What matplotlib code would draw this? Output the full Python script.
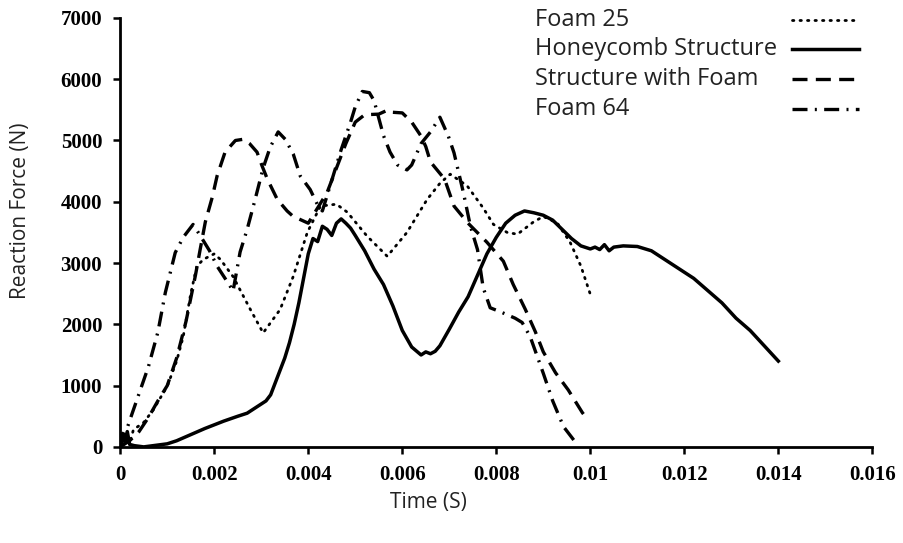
import matplotlib
matplotlib.use("Agg")
import matplotlib.pyplot as plt

# ---------------- data ----------------
foam25_t = [0, 0.0001, 0.0002, 0.00028, 0.0005, 0.0007, 0.001, 0.0012, 0.00134, 0.0015,
            0.00163, 0.00177, 0.002, 0.00213, 0.0024, 0.00277, 0.00304, 0.0034, 0.00368,
            0.00398, 0.00426, 0.0046, 0.00483, 0.00525, 0.00568, 0.0061, 0.00653, 0.0068,
            0.00702, 0.00738, 0.00772, 0.00794, 0.00823, 0.00845, 0.00879, 0.009, 0.0093,
            0.00957, 0.0098, 0.0100]
foam25_f = [0, 150, 50, 280, 400, 600, 990, 1400, 1800, 2500,
            2950, 3060, 3150, 3060, 2780, 2240, 1860, 2240, 2780,
            3500, 3930, 3960, 3830, 3440, 3110, 3500, 4040, 4300,
            4450, 4260, 3900, 3630, 3500, 3470, 3670, 3760, 3650,
            3340, 2950, 2490]

honey_t = [0, 0.00005, 0.0001, 0.00015, 0.0002, 0.0003, 0.0005, 0.0008, 0.001, 0.0012,
           0.0015, 0.0018, 0.002, 0.0022, 0.0025, 0.0027, 0.003, 0.0031, 0.0032, 0.0033,
           0.0034, 0.0035, 0.0036, 0.0037, 0.0038, 0.0039, 0.004, 0.0041, 0.0042, 0.0043,
           0.0044, 0.0045, 0.0046, 0.0047, 0.0048, 0.0049, 0.005, 0.0052, 0.0054, 0.0056,
           0.0058, 0.006, 0.0062, 0.0064, 0.0065, 0.0066, 0.0067, 0.0068, 0.007, 0.0072,
           0.0074, 0.0076, 0.0078, 0.008, 0.0082, 0.0084, 0.0086, 0.0088, 0.009, 0.0092,
           0.0094, 0.0096, 0.0098, 0.0100, 0.0101, 0.0102, 0.0103, 0.0104, 0.0105, 0.0107,
           0.011, 0.0113, 0.0116, 0.0119, 0.0122, 0.0125, 0.0128, 0.0131, 0.0134, 0.0137,
           0.014]
honey_f = [0, 220, 80, 250, 40, 20, 0, 30, 50, 100,
           200, 300, 360, 420, 500, 550, 700, 750, 850, 1050,
           1250, 1450, 1700, 2000, 2350, 2750, 3150, 3400, 3350, 3600,
           3550, 3450, 3650, 3720, 3650, 3570, 3450, 3200, 2900, 2650,
           2300, 1900, 1630, 1500, 1550, 1520, 1560, 1650, 1920, 2200,
           2450, 2800, 3150, 3420, 3650, 3780, 3850, 3820, 3780, 3700,
           3550, 3400, 3280, 3230, 3260, 3220, 3300, 3200, 3260, 3280,
           3270, 3200, 3050, 2900, 2750, 2550, 2350, 2100, 1900, 1650,
           1400]

swf_t = [0, 0.0002, 0.0004, 0.0006, 0.0008, 0.001, 0.0012, 0.0014, 0.0016, 0.0017,
         0.00181, 0.00196, 0.00206, 0.00223, 0.00245, 0.00262, 0.00275, 0.00291, 0.00302,
         0.00313, 0.00334, 0.00355, 0.00368, 0.0038, 0.0040, 0.0042, 0.0044, 0.0046,
         0.0048, 0.0050, 0.0052, 0.0055, 0.0057, 0.0058, 0.0060, 0.0062, 0.0064, 0.0065,
         0.0066, 0.0069, 0.0071, 0.0074, 0.0078, 0.00815, 0.00836, 0.00862, 0.00883,
         0.0090, 0.00926, 0.00953, 0.00983, 0.0099]
swf_f = [0, 100, 250, 480, 750, 1000, 1450, 2050, 2800, 3220,
         3670, 4080, 4420, 4810, 5000, 5020, 4950, 4810, 4580,
         4370, 4040, 3850, 3760, 3720, 3650, 3900, 4150, 4550,
         4950, 5300, 5420, 5430, 5500, 5460, 5450, 5300, 5070, 4900,
         4650, 4370, 3930, 3650, 3340, 3030, 2650, 2240, 1880,
         1550, 1210, 930, 560, 490]

foam64_t = [0, 0.0001, 0.00026, 0.0006, 0.0008, 0.00096, 0.00117, 0.00134, 0.00155, 0.0017,
            0.0019, 0.00206, 0.00234, 0.0024, 0.00255, 0.0027, 0.00287, 0.00304, 0.00319,
            0.00336, 0.00351, 0.00368, 0.00383, 0.00404, 0.00421, 0.0043, 0.0045, 0.0047,
            0.0049, 0.0050, 0.00515, 0.0053, 0.0054, 0.0056, 0.00574, 0.0059, 0.0061, 0.0062,
            0.0064, 0.0066, 0.0068, 0.00698, 0.0071, 0.0073, 0.00745, 0.0076, 0.00772,
            0.00787, 0.0081, 0.0084, 0.00855, 0.00872, 0.0090, 0.0092, 0.00943, 0.00968]
foam64_f = [0, 200, 560, 1310, 1870, 2520, 3170, 3420, 3630, 3450,
            3200, 2950, 2620, 2540, 3180, 3550, 4040, 4550, 4890,
            5140, 5020, 4780, 4420, 4200, 3930, 3850, 4350, 4850,
            5300, 5550, 5800, 5780, 5650, 5080, 4810, 4600, 4520, 4600,
            4950, 5140, 5380, 5070, 4800, 4150, 3600, 3220, 2600,
            2270, 2200, 2100, 2030, 1800, 1200, 750, 330, 80]

names = ["Foam 25", "Honeycomb Structure", "Structure with Foam", "Foam 64"]
x_ticks = [0, 0.002, 0.004, 0.006, 0.008, 0.01, 0.012, 0.014, 0.016]
x_tick_labels = ["0", "0.002", "0.004", "0.006", "0.008", "0.01", "0.012", "0.014", "0.016"]
y_ticks = [0, 1000, 2000, 3000, 4000, 5000, 6000, 7000]

# ---------------- styling ----------------
styles = [
    dict(color="black", lw=2.0, linestyle=(0, (0.5, 2.2)), dash_capstyle="round"),
    dict(color="black", lw=2.5, linestyle="-"),
    dict(color="black", lw=2.4, linestyle=(0, (4.5, 2.5))),
    dict(color="black", lw=2.4, linestyle=(0, (4.5, 2.2, 0.6, 2.2))),
]

fig = plt.figure(figsize=(9.04, 5.43), dpi=100)
ax = fig.add_axes([0.133, 0.177, 0.832, 0.79])

series = [(foam25_t, foam25_f), (honey_t, honey_f), (swf_t, swf_f), (foam64_t, foam64_f)]
for (t, f), st in zip(series, styles):
    ax.plot(t, f, **st)

ax.set_xlim(0, 0.016)
ax.set_ylim(0, 7000)
ax.set_xticks(x_ticks)
ax.set_xticklabels(x_tick_labels)
ax.set_yticks(y_ticks)

for s in ["top", "right"]:
    ax.spines[s].set_visible(False)
for s in ["left", "bottom"]:
    ax.spines[s].set_linewidth(2.0)

for lab in ax.get_xticklabels() + ax.get_yticklabels():
    lab.set_fontfamily("Liberation Serif")
    lab.set_fontweight("bold")
    lab.set_fontsize(15)
ax.tick_params(axis="both", direction="out", width=1.8, length=5, pad=8)

ax.set_xlabel("Time (S)", fontsize=15, family="Open Sans", color="#222222")
ax.set_ylabel("Reaction Force (N)", fontsize=15, family="Open Sans", color="#222222")
ax.xaxis.set_label_coords(0.41, -0.105)
ax.yaxis.set_label_coords(-0.118, 0.55)

# legend: text on the left, key on the right
leg_y = [0.995, 0.927, 0.857, 0.787]
for name, st, yy in zip(names, styles, leg_y):
    ax.text(0.552, yy, name, transform=ax.transAxes, fontsize=17, family="Open Sans",
            color="#222222", va="center", ha="left")
    ax.plot([0.893, 0.982], [yy, yy], transform=ax.transAxes, clip_on=False, **st)

fig.savefig("out.png", dpi=100)
